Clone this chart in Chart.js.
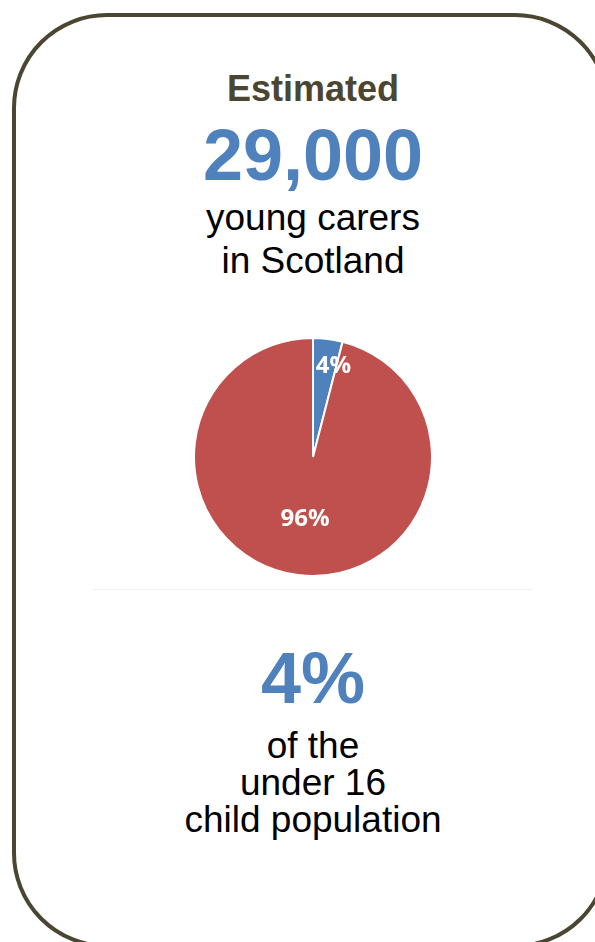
<!DOCTYPE html>
<html>
<head>
<meta charset="utf-8">
<script src="https://cdn.jsdelivr.net/npm/chart.js@4/dist/chart.umd.min.js"></script>
<style>
  html, body { margin: 0; padding: 0; background: #fff; }
  body { width: 595px; height: 942px; position: relative; overflow: hidden; font-family: 'Liberation Sans', Arial, sans-serif; }
  .frame {
    position: absolute; left: 12px; top: 13px; width: 598px; height: 935px;
    border: 4px solid #4b4631; border-radius: 95px; box-sizing: border-box;
  }
  .txt { position: absolute; left: 0; width: 626px; text-align: center; white-space: nowrap; }
  .lead { top: 71px; font-size: 36px; line-height: 36px; font-weight: bold; color: #4b4631; }
  .big { font-size: 72px; line-height: 72px; font-weight: bold; color: #4f81bd; }
  .body { font-size: 37px; color: #000; }
  .rule { position: absolute; left: 93px; width: 440px; top: 589px; height: 1px; background: #f1f1f1; }
  .pie { position: absolute; left: 193px; top: 337px; width: 240px; height: 240px; }
</style>
</head>
<body>
<div class="frame"></div>
<div class="txt lead">Estimated</div>
<div class="txt big" style="top:119px">29,000</div>
<div class="txt body" style="top:196px; line-height:43px">young carers<br>in Scotland</div>
<div class="pie"><canvas id="pie"></canvas></div>
<div class="rule"></div>
<div class="txt big" style="top:642px">4%</div>
<div class="txt body" style="top:727px; line-height:37px">of the<br>under 16<br>child population</div>

<script>
// Share of the under-16 population who are young carers
const categories = ['Young carers', 'Other under 16s'];
const shares = [4, 96];
const sliceColors = ['#4f81bd', '#c0504d'];

// white percentage labels inside each slice
const sliceLabels = {
  id: 'sliceLabels',
  afterDatasetsDraw(chart) {
    const { ctx } = chart;
    const meta = chart.getDatasetMeta(0);
    ctx.save();
    ctx.fillStyle = '#fff';
    ctx.font = "bold 24px 'Open Sans', sans-serif";
    ctx.textAlign = 'center';
    ctx.textBaseline = 'middle';
    meta.data.forEach((arc, i) => {
      const mid = (arc.startAngle + arc.endAngle) / 2;
      // thin slices get pushed out toward the rim
      const thin = arc.circumference < 0.5;
      const r = arc.outerRadius * (thin ? 0.77 : 0.53);
      let x = arc.x + Math.cos(mid) * r;
      const y = arc.y + Math.sin(mid) * r;
      if (thin) x += 9;
      ctx.fillText(shares[i] + '%', x, y);
    });
    ctx.restore();
  }
};

new Chart(document.getElementById('pie'), {
  type: 'pie',
  data: {
    labels: categories,
    datasets: [{
      data: shares,
      backgroundColor: sliceColors,
      borderColor: '#fff',
      borderWidth: 2
    }]
  },
  options: {
    responsive: true,
    maintainAspectRatio: false,
    animation: false,
    layout: { padding: 0 },
    plugins: {
      legend: { display: false },
      tooltip: { enabled: false }
    }
  },
  plugins: [sliceLabels]
});
</script>
</body>
</html>
